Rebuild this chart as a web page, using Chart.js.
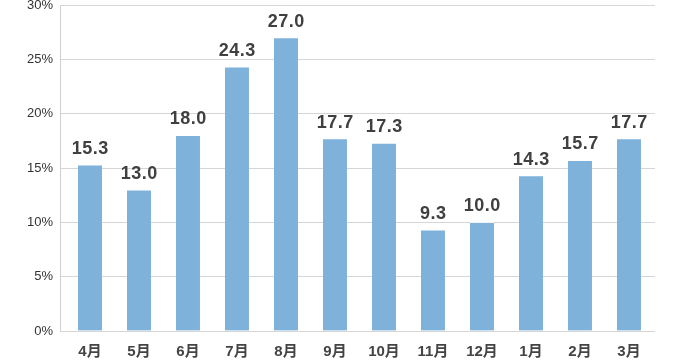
<!DOCTYPE html>
<html>
<head>
<meta charset="utf-8">
<script src="https://cdn.jsdelivr.net/npm/chart.js@4/dist/chart.umd.min.js"></script>
<style>
  html, body { margin: 0; padding: 0; background: #fff; }
  #wrap { width: 680px; height: 360px; }
</style>
</head>
<body>
<div id="wrap"><canvas id="chart" width="680" height="360"></canvas></div>
<script>
const months = ["4月", "5月", "6月", "7月", "8月", "9月", "10月", "11月", "12月", "1月", "2月", "3月"];
const rates = [15.3, 13.0, 18.0, 24.3, 27.0, 17.7, 17.3, 9.3, 10.0, 14.3, 15.7, 17.7];
const yTicks = [0, 5, 10, 15, 20, 25, 30];

const FONT = "'Liberation Sans', Arial, 'Noto Sans CJK JP', sans-serif";

// value labels above each bar
const valueLabels = {
  id: "valueLabels",
  afterDatasetsDraw(chart) {
    const ctx = chart.ctx;
    const meta = chart.getDatasetMeta(0);
    ctx.save();
    ctx.font = "bold 18px " + FONT;
    if ("letterSpacing" in ctx) ctx.letterSpacing = "0.5px";
    ctx.fillStyle = "#404040";
    ctx.textAlign = "center";
    ctx.textBaseline = "alphabetic";
    meta.data.forEach((bar, i) => {
      ctx.fillText(rates[i].toFixed(1), bar.x + 0.25, bar.y - 11);
    });
    ctx.restore();
  },
};

const ctx = document.getElementById("chart").getContext("2d");
new Chart(ctx, {
  type: "bar",
  data: {
    datasets: [
      {
        data: rates.map((v, i) => ({ x: i, y: v })),
        backgroundColor: "#7fb2db",
        borderColor: "rgba(255,255,255,0.7)",
        borderWidth: { top: 1, left: 0, right: 0, bottom: 0 },
        borderSkipped: "bottom",
        barThickness: 24,
      },
    ],
  },
  options: {
    responsive: false,
    animation: false,
    layout: { padding: { top: 5, right: 25, left: 0, bottom: 0 } },
    plugins: { legend: { display: false }, tooltip: { enabled: false } },
    scales: {
      x: {
        type: "linear",
        offset: false,
        min: -0.612,
        max: 11.531,
        afterBuildTicks: (s) => {
          s.ticks = months.map((m, i) => ({ value: i }));
        },
        afterFit: (s) => { s.height = 29; },
        grid: { display: false, offset: false },
        border: { display: false },
        ticks: {
          autoSkip: false,
          maxRotation: 0,
          padding: 4,
          color: "#444",
          font: { family: FONT, size: 15, weight: "bold" },
          callback: (v) => months[v] ?? "",
        },
      },
      y: {
        min: 0,
        max: 30,
        afterBuildTicks: (s) => {
          s.ticks = yTicks.map((v) => ({ value: v }));
        },
        afterFit: (s) => {
          s.width = 60;
          s.paddingTop = 0;
          s.paddingBottom = 0;
        },
        grid: { color: "#d6d6d6", drawTicks: false, lineWidth: 1 },
        border: { display: true, color: "#cfcfcf" },
        ticks: {
          padding: 7,
          color: "#333",
          font: { family: FONT, size: 13 },
          callback: (v) => v + "%",
        },
      },
    },
  },
  plugins: [valueLabels],
});
</script>
</body>
</html>
